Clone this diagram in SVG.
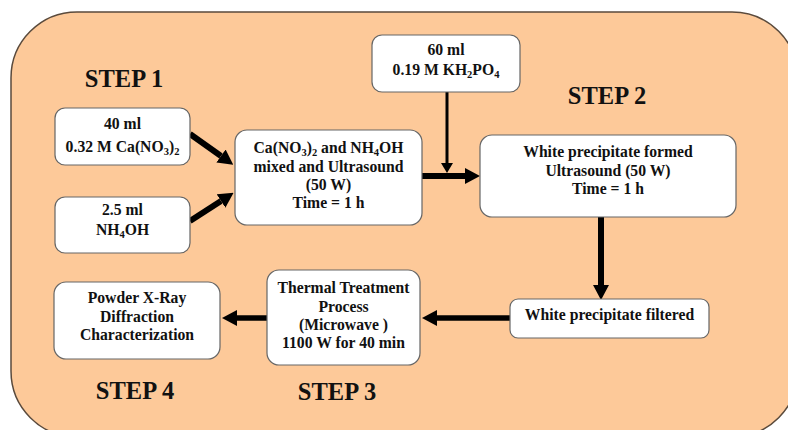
<svg xmlns="http://www.w3.org/2000/svg" width="788" height="430" viewBox="0 0 788 430">
<defs>
<style>
.t{font-family:"Liberation Serif","Times New Roman",serif;font-weight:bold;font-size:15.7px;fill:#111;text-anchor:middle}
.s{font-family:"Liberation Serif","Times New Roman",serif;font-weight:bold;font-size:24.5px;fill:#111;text-anchor:middle}
.b{fill:#fff;stroke:#666;stroke-width:1.2}
.sub{font-size:10.5px}
.c{stroke:#000;fill:none}
</style>
<marker id="ah" markerUnits="userSpaceOnUse" viewBox="0 0 15 16" refX="0" refY="8" markerWidth="15" markerHeight="16" orient="auto">
<path d="M0,0 L15,8 L0,16 z" fill="#000"/>
</marker>
<marker id="ahs" markerUnits="userSpaceOnUse" viewBox="0 0 10 12" refX="0" refY="6" markerWidth="10" markerHeight="12" orient="auto">
<path d="M0,0 L10,6 L0,12 z" fill="#000"/>
</marker>
</defs>
<rect x="0" y="0" width="788" height="430" fill="#fff"/>
<rect x="11" y="12" width="787" height="425" rx="66" ry="66" fill="#FDC999" stroke="#5a4a3c" stroke-width="1.5"/>

<g id="connectors">
<line class="c" x1="190" y1="134" x2="221" y2="156" stroke-width="6" marker-end="url(#ah)"/>
<line class="c" x1="190" y1="221" x2="221" y2="201" stroke-width="6" marker-end="url(#ah)"/>
<line class="c" x1="422" y1="176" x2="465" y2="176" stroke-width="6" marker-end="url(#ah)"/>
<line class="c" x1="447" y1="92" x2="447" y2="163" stroke-width="3" marker-end="url(#ahs)"/>
<line class="c" x1="601" y1="217" x2="601" y2="285" stroke-width="6" marker-end="url(#ah)"/>
<line class="c" x1="510" y1="318" x2="437" y2="318" stroke-width="5.5" marker-end="url(#ah)"/>
<line class="c" x1="267" y1="318" x2="237" y2="318" stroke-width="5.5" marker-end="url(#ah)"/>
</g>

<g id="step1"><text class="s" x="124" y="87">STEP 1</text></g>
<g id="step2"><text class="s" x="607" y="104">STEP 2</text></g>
<g id="step3"><text class="s" x="337" y="400">STEP 3</text></g>
<g id="step4"><text class="s" x="135" y="399">STEP 4</text></g>

<g id="ca">
<rect class="b" x="55" y="108" width="135" height="57" rx="10"/>
<text class="t" x="122.5" y="129">40 ml</text>
<text class="t" x="122.5" y="152">0.32 M Ca(NO<tspan class="sub" dy="3">3</tspan><tspan dy="-3">)</tspan><tspan class="sub" dy="3">2</tspan></text>
</g>

<g id="nh4oh">
<rect class="b" x="55" y="197" width="135" height="56" rx="10"/>
<text class="t" x="122.5" y="215">2.5 ml</text>
<text class="t" x="122.5" y="235">NH<tspan class="sub" dy="3">4</tspan><tspan dy="-3">OH</tspan></text>
</g>

<g id="mix">
<rect class="b" x="235" y="130" width="187" height="95" rx="12"/>
<text class="t" x="328.5" y="152.5">Ca(NO<tspan class="sub" dy="3">3</tspan><tspan dy="-3">)</tspan><tspan class="sub" dy="3">2</tspan><tspan dy="-3"> and NH</tspan><tspan class="sub" dy="3">4</tspan><tspan dy="-3">OH</tspan></text>
<text class="t" x="328.5" y="171.5">mixed and Ultrasound</text>
<text class="t" x="328.5" y="190">(50 W)</text>
<text class="t" x="328.5" y="207.5">Time = 1 h</text>
</g>

<g id="kh2po4">
<rect class="b" x="372" y="35" width="148" height="57" rx="10"/>
<text class="t" x="446" y="55">60 ml</text>
<text class="t" x="446" y="75">0.19 M KH<tspan class="sub" dy="3">2</tspan><tspan dy="-3">PO</tspan><tspan class="sub" dy="3">4</tspan></text>
</g>

<g id="formed">
<rect class="b" x="480" y="135" width="256" height="82" rx="12"/>
<text class="t" x="608" y="157">White precipitate formed</text>
<text class="t" x="608" y="176">Ultrasound (50 W)</text>
<text class="t" x="608" y="193.5">Time = 1 h</text>
</g>

<g id="filtered">
<rect class="b" x="510" y="299" width="199" height="39" rx="8"/>
<text class="t" x="609.5" y="320">White precipitate filtered</text>
</g>

<g id="thermal">
<rect class="b" x="267" y="270" width="153" height="95" rx="12"/>
<text class="t" x="343.5" y="293">Thermal Treatment</text>
<text class="t" x="343.5" y="312">Process</text>
<text class="t" x="343.5" y="330">(Microwave )</text>
<text class="t" x="343.5" y="348">1100 W for 40 min</text>
</g>

<g id="xrd">
<rect class="b" x="54" y="282" width="166" height="77" rx="12"/>
<text class="t" x="137" y="303">Powder X-Ray</text>
<text class="t" x="137" y="322">Diffraction</text>
<text class="t" x="137" y="340">Characterization</text>
</g>
</svg>
